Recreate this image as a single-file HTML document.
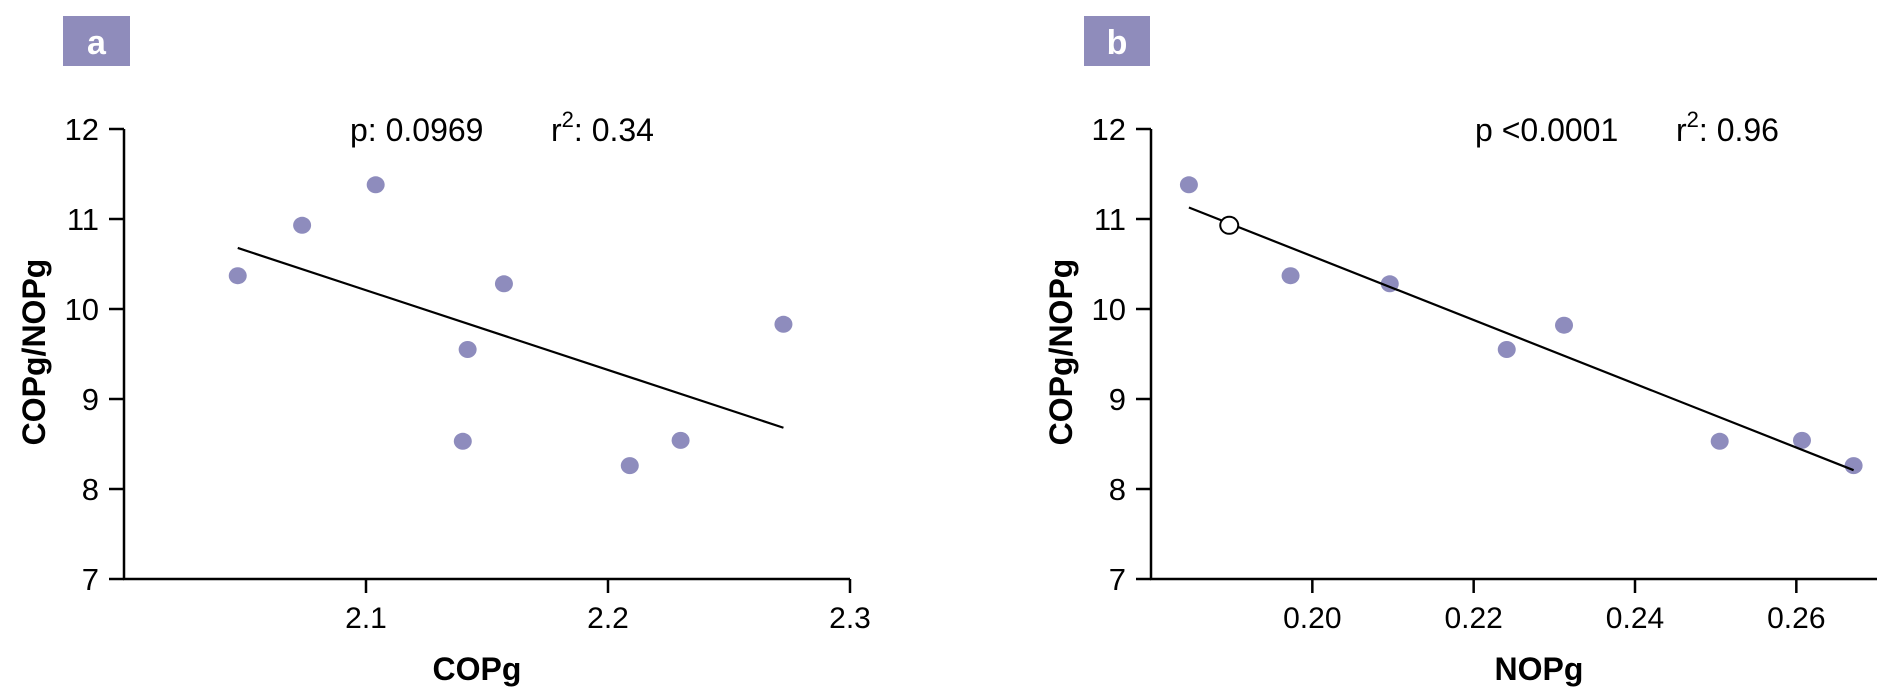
<!DOCTYPE html>
<html><head><meta charset="utf-8"><style>
body{margin:0;background:#fff;}
svg{display:block;font-family:"Liberation Sans",Arial,sans-serif;}
</style></head><body>
<svg id="chart" width="1896" height="698" viewBox="0 0 1896 698"></svg>
<script>
// Panel a data
const copgA = [2.047, 2.0736, 2.104, 2.157, 2.142, 2.140, 2.209, 2.230, 2.2725];
const ratioA = [10.37, 10.93, 11.38, 10.28, 9.55, 8.53, 8.26, 8.54, 9.83];
const xTicksA = [2.1, 2.2, 2.3];
const xTickLabelsA = ["2.1", "2.2", "2.3"];
// Panel b data
const nopgB = [0.1847, 0.1897, 0.1973, 0.2096, 0.2241, 0.2312, 0.2505, 0.2607, 0.2671];
const ratioB = [11.38, 10.93, 10.37, 10.28, 9.55, 9.82, 8.53, 8.54, 8.26];
const openB = [false, true, false, false, false, false, false, false, false];
const xTicksB = [0.20, 0.22, 0.24, 0.26];
const xTickLabelsB = ["0.20", "0.22", "0.24", "0.26"];
const yTicks = [7, 8, 9, 10, 11, 12];
const yTickLabels = ["7", "8", "9", "10", "11", "12"];

const NS = "http://www.w3.org/2000/svg";
const svg = document.getElementById("chart");
function mk(tag, attrs, parent) {
  const e = document.createElementNS(NS, tag);
  for (const k in attrs) e.setAttribute(k, attrs[k]);
  (parent || svg).appendChild(e);
  return e;
}
function fit(xs, ys) {
  const n = xs.length;
  const mx = xs.reduce((a, b) => a + b) / n, my = ys.reduce((a, b) => a + b) / n;
  let sxy = 0, sxx = 0;
  for (let i = 0; i < n; i++) { sxy += (xs[i] - mx) * (ys[i] - my); sxx += (xs[i] - mx) ** 2; }
  const m = sxy / sxx;
  return [m, my - m * mx];
}
function panel(cfg) {
  const g = mk("g", {});
  
  
  const X = v => cfg.x0 + (v - cfg.xmin) / (cfg.xmax - cfg.xmin) * (cfg.x1 - cfg.x0);
  const Y = v => 579 - (v - 7) / 5 * (579 - 129);
  // label box
  const box = mk("rect", {x: cfg.bx, y: 16, width: cfg.bw, height: 50, fill: "#8f8cbb"}, g);
  
  
  const bl = mk("text", {x: cfg.bx + cfg.bw / 2, y: 54, "text-anchor": "middle", fill: "#fff", "font-size": 34, "font-weight": "bold"}, g);
  bl.textContent = cfg.letter;
  
  
  // axes
  const ya = mk("line", {x1: cfg.x0, y1: 129, x2: cfg.x0, y2: 580, stroke: "#000", "stroke-width": 2.5}, g);
  
  
  const xa = mk("line", {x1: cfg.x0 - 1, y1: 579, x2: cfg.x1, y2: 579, stroke: "#000", "stroke-width": 2.5}, g);
  
  
  yTicks.forEach((t, i) => {
    const tl = mk("line", {x1: cfg.x0 - 15, y1: Y(t), x2: cfg.x0, y2: Y(t), stroke: "#000", "stroke-width": 2.5}, g);
    
    
    const tx = mk("text", {x: cfg.x0 - 25, y: Y(t) + 11, "text-anchor": "end", "font-size": 31}, g);
    tx.textContent = yTickLabels[i];
    
    
  });
  cfg.xt.forEach((t, i) => {
    const tl = mk("line", {x1: X(t), y1: 579, x2: X(t), y2: 593, stroke: "#000", "stroke-width": 2.5}, g);
    
    
    const tx = mk("text", {x: X(t), y: 628, "text-anchor": "middle", "font-size": 30}, g);
    tx.textContent = cfg.xtl[i];
    
    
  });
  const yt = mk("text", {x: 0, y: 0, transform: `translate(${cfg.ytx},352) rotate(-90)`, "text-anchor": "middle", "font-size": 32, "font-weight": "bold"}, g);
  yt.textContent = "COPg/NOPg";
  
  
  const xt = mk("text", {x: cfg.xtx, y: 680, "text-anchor": "middle", "font-size": 32, "font-weight": "bold"}, g);
  xt.textContent = cfg.xtitle;
  
  
  // stats
  const p = mk("text", {x: cfg.px, y: 141, "font-size": 32}, g);
  p.textContent = cfg.ptext;
  
  
  const r = mk("text", {x: cfg.rx, y: 141, "font-size": 32}, g);
  r.innerHTML = 'r<tspan dy="-14" font-size="22">2</tspan><tspan dy="14">: ' + cfg.r2 + '</tspan>';
  
  
  // points
  cfg.xs.forEach((v, i) => {
    const open = cfg.open && cfg.open[i];
    const c = mk("ellipse", {cx: X(v), cy: Y(cfg.ys[i]), rx: 9, ry: 8.5,
      fill: open ? "#fff" : "#8e8cbd", stroke: open ? "#000" : "none", "stroke-width": 2}, g);
    
    
  });
  // regression line
  const [m, b] = fit(cfg.xs, cfg.ys);
  const lo = Math.min(...cfg.xs), hi = Math.max(...cfg.xs);
  const ln = mk("line", {x1: X(lo), y1: Y(m * lo + b), x2: X(hi), y2: Y(m * hi + b), stroke: "#000", "stroke-width": 2.2}, g);
  
  
  // re-append open points above line
  g.querySelectorAll("ellipse").forEach(e => { if (e.getAttribute("fill") === "#fff") g.appendChild(e); });
}
panel({name: "panel-a", letter: "a", bx: 63, bw: 67, x0: 124, x1: 850, xmin: 2.0, xmax: 2.3,
  xt: xTicksA, xtl: xTickLabelsA, xs: copgA, ys: ratioA, ytx: 45, xtx: 477, xtitle: "COPg",
  px: 350, ptext: "p: 0.0969", rx: 551, r2: "0.34"});
panel({name: "panel-b", letter: "b", bx: 1084, bw: 66, x0: 1151, x1: 1877, xmin: 0.18, xmax: 0.27,
  xt: xTicksB, xtl: xTickLabelsB, xs: nopgB, ys: ratioB, open: openB, ytx: 1072, xtx: 1539, xtitle: "NOPg",
  px: 1475, ptext: "p <0.0001", rx: 1676, r2: "0.96"});
</script>
</body></html>
